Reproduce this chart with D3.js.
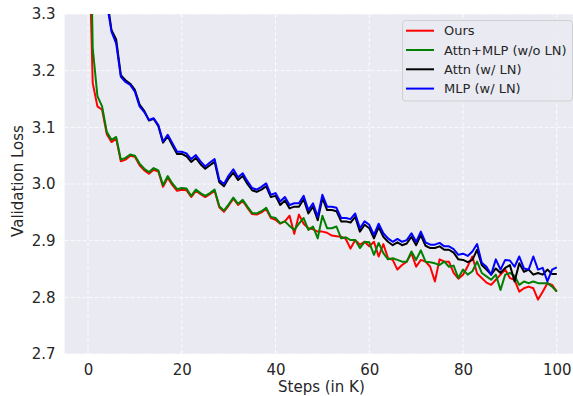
<!DOCTYPE html>
<html><head><meta charset="utf-8">
<script src="https://cdn.jsdelivr.net/npm/d3@7"></script>
<style>html,body{margin:0;padding:0;background:#fff;overflow:hidden}svg{display:block}</style>
</head><body><svg id="c" width="573" height="396"></svg>
<script>
const steps = d3.range(0, 101);
const ours = [3.50,3.178,3.137,3.131,3.088,3.074,3.080,3.040,3.043,3.050,3.048,3.033,3.024,3.018,3.025,3.022,2.995,3.011,2.998,2.988,2.990,
2.989,2.977,2.988,2.982,2.977,2.982,2.988,2.959,2.951,2.962,2.974,2.963,2.970,2.958,2.947,2.946,2.950,2.956,2.940,2.937,
2.930,2.934,2.944,2.912,2.946,2.930,2.922,2.920,2.916,2.916,2.914,2.909,2.908,2.907,2.903,2.886,2.901,2.893,2.898,2.890,
2.898,2.872,2.894,2.869,2.866,2.849,2.857,2.863,2.878,2.854,2.866,2.863,2.854,2.828,2.867,2.863,2.863,2.843,2.833,2.840,
2.855,2.872,2.842,2.834,2.826,2.822,2.831,2.840,2.849,2.834,2.831,2.810,2.816,2.819,2.816,2.796,2.810,2.825,2.822,2.810];
const attnMlpNoLN = [3.70,3.240,3.155,3.137,3.092,3.078,3.083,3.043,3.046,3.052,3.050,3.036,3.027,3.021,3.028,3.024,2.998,3.014,3.001,2.991,2.993,
2.992,2.979,2.990,2.984,2.979,2.984,2.990,2.961,2.953,2.964,2.976,2.965,2.972,2.960,2.949,2.948,2.952,2.958,2.942,2.940,
2.931,2.934,2.926,2.919,2.930,2.940,2.919,2.925,2.904,2.944,2.922,2.922,2.925,2.904,2.906,2.901,2.901,2.887,2.898,2.897,
2.875,2.896,2.878,2.867,2.869,2.866,2.863,2.863,2.881,2.866,2.883,2.863,2.862,2.860,2.857,2.863,2.854,2.856,2.834,2.849,
2.840,2.846,2.863,2.843,2.837,2.831,2.840,2.813,2.840,2.843,2.838,2.822,2.828,2.825,2.828,2.825,2.825,2.825,2.819,2.810];
const attnLN = [4.2,3.9,3.65,3.45,3.33,3.272,3.255,3.192,3.183,3.177,3.166,3.140,3.129,3.112,3.115,3.102,3.073,3.084,3.068,3.053,3.053,
3.049,3.039,3.046,3.035,3.027,3.033,3.039,3.003,2.996,3.010,3.020,3.007,3.014,3.000,2.989,2.986,2.990,2.996,2.977,2.979,
2.963,2.971,2.957,2.960,2.960,2.973,2.948,2.960,2.936,2.975,2.954,2.954,2.952,2.934,2.934,2.932,2.942,2.916,2.928,2.922,
2.904,2.924,2.907,2.898,2.892,2.897,2.892,2.895,2.907,2.892,2.910,2.891,2.887,2.887,2.890,2.884,2.884,2.879,2.867,2.866,
2.862,2.866,2.884,2.857,2.849,2.840,2.851,2.843,2.852,2.857,2.828,2.860,2.845,2.849,2.840,2.843,2.840,2.849,2.841,2.841];
const mlpLN = [4.2,3.9,3.65,3.45,3.32,3.269,3.248,3.189,3.180,3.175,3.163,3.137,3.127,3.113,3.116,3.104,3.075,3.087,3.072,3.057,3.057,
3.054,3.044,3.051,3.040,3.031,3.038,3.044,3.007,3.000,3.015,3.026,3.012,3.019,3.005,2.993,2.990,2.995,3.001,2.981,2.984,
2.969,2.977,2.963,2.966,2.966,2.979,2.954,2.966,2.942,2.981,2.960,2.960,2.958,2.940,2.940,2.938,2.948,2.922,2.934,2.928,
2.910,2.930,2.913,2.904,2.898,2.903,2.898,2.901,2.913,2.898,2.916,2.897,2.893,2.893,2.896,2.890,2.890,2.885,2.875,2.877,
2.873,2.881,2.894,2.861,2.854,2.840,2.867,2.849,2.866,2.865,2.854,2.872,2.851,2.849,2.872,2.849,2.852,2.828,2.849,2.853];
const seriesNames = ["Ours", "Attn+MLP (w/o LN)", "Attn (w/ LN)", "MLP (w/ LN)"];
const seriesColors = ["#ff0000", "#008000", "#000000", "#0000ff"];
const seriesValues = [ours, attnMlpNoLN, attnLN, mlpLN];
const xTicks = [0, 20, 40, 60, 80, 100];
const yTicks = [2.7, 2.8, 2.9, 3.0, 3.1, 3.2, 3.3];

const svg = d3.select("#c");
const L = 64.6, R = 580.2, T = 14, B = 354;
const x = d3.scaleLinear().domain([-5, 105]).range([L, R]);
const y = d3.scaleLinear().domain([2.7, 3.3]).range([B, T]);

svg.append("rect").attr("x", L).attr("y", T).attr("width", R - L).attr("height", B - T).attr("fill", "#eaeaf2");
svg.append("defs").append("clipPath").attr("id", "clip")
  .append("rect").attr("x", L).attr("y", T).attr("width", R - L).attr("height", B - T);

const grid = svg.append("g");
grid.selectAll(".gx").data(xTicks).join("line")
  .attr("x1", d => x(d)).attr("x2", d => x(d)).attr("y1", T).attr("y2", B)
  .attr("stroke", "#ffffff").attr("stroke-width", 1).attr("stroke-dasharray", "4,2").attr("opacity", 0.85);
grid.selectAll(".gy").data(yTicks).join("line")
  .attr("x1", L).attr("x2", R).attr("y1", d => y(d)).attr("y2", d => y(d))
  .attr("stroke", "#ffffff").attr("stroke-width", 1).attr("stroke-dasharray", "4,2").attr("opacity", 0.85);

const line = d3.line().x((d, i) => x(steps[i])).y(d => y(d));
const lines = svg.append("g").attr("clip-path", "url(#clip)");
seriesValues.forEach((vals, k) => {
  lines.append("path").datum(vals).attr("d", line)
    .attr("fill", "none").attr("stroke", seriesColors[k]).attr("stroke-width", 2)
    .attr("stroke-linejoin", "round").attr("stroke-linecap", "butt");
});

const font = "'DejaVu Sans', sans-serif";
const xAxis = svg.append("g").attr("transform", `translate(0,${B})`)
  .call(d3.axisBottom(x).tickValues(xTicks).tickFormat(d3.format("d")).tickSize(0).tickPadding(10));
const yAxis = svg.append("g").attr("transform", `translate(${L},0)`)
  .call(d3.axisLeft(y).tickValues(yTicks).tickFormat(d3.format(".1f")).tickSize(0).tickPadding(9));
[xAxis, yAxis].forEach(a => {
  a.select(".domain").remove();
  a.selectAll("text").attr("font-family", font).attr("font-size", "15px").attr("fill", "#262626");
});

svg.append("text").attr("x", (L + R) / 2 - 1).attr("y", 392).attr("text-anchor", "middle")
  .attr("font-family", font).attr("font-size", "15px").attr("fill", "#262626").text("Steps (in K)");
svg.append("text").attr("transform", "translate(23,181) rotate(-90)").attr("text-anchor", "middle")
  .attr("font-family", font).attr("font-size", "15px").attr("fill", "#262626").text("Validation Loss");

const lg = svg.append("g");
lg.append("rect").attr("x", 402.5).attr("y", 20.5).attr("width", 170).attr("height", 80.5).attr("rx", 3)
  .attr("fill", "#eaeaf2").attr("fill-opacity", 0.85).attr("stroke", "#d0d0d0").attr("stroke-width", 1);
seriesNames.forEach((name, k) => {
  const cy = 30.7 + k * 19.3;
  lg.append("line").attr("x1", 406).attr("x2", 434).attr("y1", cy).attr("y2", cy)
    .attr("stroke", seriesColors[k]).attr("stroke-width", 2);
  lg.append("text").attr("x", 444).attr("y", cy + 4.6).attr("font-family", font).attr("font-size", "13px")
    .attr("fill", "#262626").text(name);
});
</script></body></html>
